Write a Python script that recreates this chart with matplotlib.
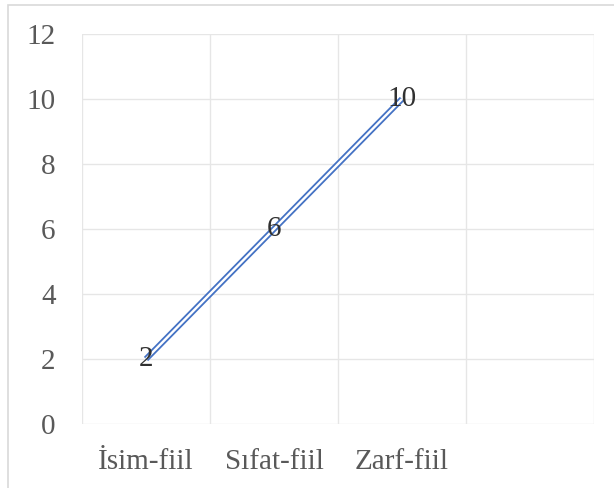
import numpy as np
import matplotlib
matplotlib.use('Agg')
import matplotlib.pyplot as plt
from matplotlib.patches import Rectangle

# data
categories = ['İsim-fiil', 'Sıfat-fiil', 'Zarf-fiil', '']
values = [2, 6, 10]
y_ticks = [0, 2, 4, 6, 8, 10, 12]

plt.rcParams['font.family'] = ['Liberation Serif', 'DejaVu Serif']

fig = plt.figure(figsize=(6.14, 4.88), dpi=100)
ax = fig.add_axes([82/614, 64/488, 512/614, 390/488])

# outer chart border (Excel-style)
fig.patches.append(Rectangle((8/614, -0.1), 1.0, 483/488 + 0.1, transform=fig.transFigure,
                             fill=False, edgecolor='#D9D9D9', lw=1.2))

x = np.arange(len(values))
# double line: blue stroke with white core
ax.plot(x, values, color='#4472C4', lw=4.3, solid_capstyle='butt', zorder=3)
ax.plot(x, values, color='white', lw=1.7, solid_capstyle='butt', zorder=4)

for xi, v in zip(x, values):
    ax.text(xi, v, str(v), ha='center', va='center', fontsize=21, color='#303030', zorder=5)

ax.set_xlim(-0.5, len(categories) - 0.5)
ax.set_ylim(0, 12)
ax.set_yticks(y_ticks)
ax.set_xticks(np.arange(len(categories)))
ax.set_xticklabels(categories)
ax.set_xticks(np.arange(len(categories) + 1) - 0.5, minor=True)

ax.tick_params(axis='both', which='both', length=0, labelsize=21, labelcolor='#595959')
ax.tick_params(axis='y', pad=19)
ax.tick_params(axis='x', pad=18)

ax.grid(True, axis='y', which='major', color='#E6E6E6', lw=1)
ax.grid(True, axis='x', which='minor', color='#E6E6E6', lw=1)
ax.grid(False, axis='x', which='major')
for s in ax.spines.values():
    s.set_visible(False)
ax.set_axisbelow(True)

plt.savefig('out.png', dpi=100)
